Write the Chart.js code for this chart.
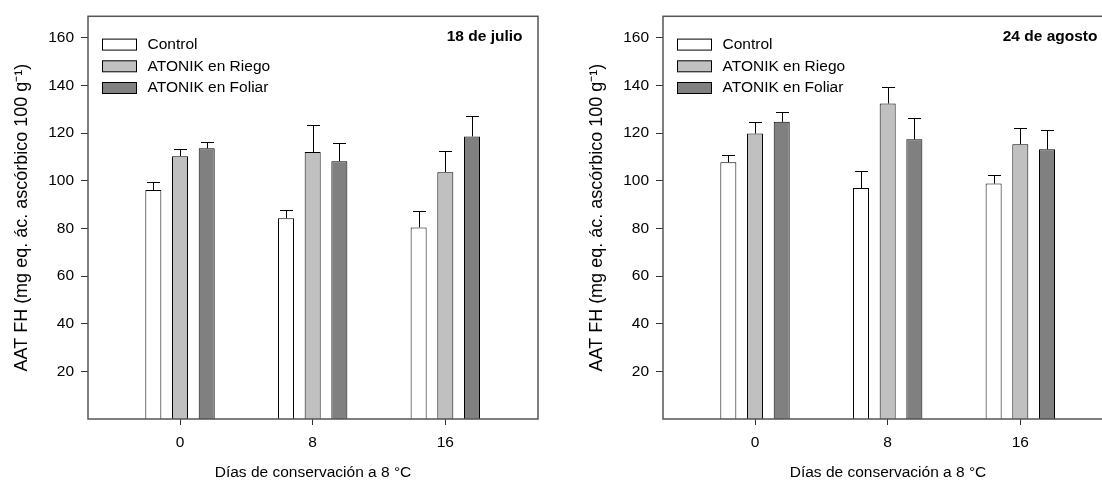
<!DOCTYPE html>
<html lang="es">
<head>
<meta charset="utf-8">
<title>AAT FH - ATONIK</title>
<script src="https://cdn.jsdelivr.net/npm/chart.js@4.4.1/dist/chart.umd.min.js"></script>
<style>
  html, body { margin: 0; padding: 0; background: #fff; }
  #wrap { position: relative; width: 1102px; height: 484px; overflow: hidden; }
  canvas { position: absolute; top: 0; }
  #julio { left: 0; }
  #agosto { left: 575px; }
</style>
</head>
<body>
<div id="wrap">
  <canvas id="julio" width="560" height="484"></canvas>
  <canvas id="agosto" width="560" height="484"></canvas>
</div>
<script>
// -------------------- Datos
const dias = [0, 8, 16];
const yTicks = [20, 40, 60, 80, 100, 120, 140, 160];
const series = ['Control', 'ATONIK en Riego', 'ATONIK en Foliar'];
const colores = ['#ffffff', '#c0c0c0', '#808080'];

// 18 de julio
const julioControl = [96.1, 84.3, 80.4];
const julioControlErr = [3.2, 3.3, 7.0];
const julioRiego = [110.3, 112.0, 103.6];
const julioRiegoErr = [3.0, 11.5, 8.9];
const julioFoliar = [113.6, 108.2, 118.6];
const julioFoliarErr = [2.7, 7.8, 8.4];

// 24 de agosto
const agostoControl = [107.8, 96.9, 98.8];
const agostoControlErr = [3.2, 7.0, 3.7];
const agostoRiego = [119.8, 132.4, 115.3];
const agostoRiegoErr = [4.8, 6.9, 6.9];
const agostoFoliar = [124.7, 117.4, 113.2];
const agostoFoliarErr = [4.3, 9.1, 7.9];

Chart.defaults.font.family = '"Liberation Sans", Arial, sans-serif';
Chart.defaults.font.size = 15.5;
Chart.defaults.color = '#000';

// Barras de error, marco, leyenda y fecha
const decoPlugin = {
    id: 'deco',
    afterDatasetsDraw(chart) {
        const ctx = chart.ctx;
        const y = chart.scales.y;
        ctx.save();
        ctx.strokeStyle = '#000';
        ctx.lineWidth = 1;
        chart.data.datasets.forEach((ds, i) => {
            const meta = chart.getDatasetMeta(i);
            meta.data.forEach((bar, j) => {
                const top = y.getPixelForValue(ds.data[j].y + ds.errores[j]);
                const x = Math.round(bar.x) + 0.5;
                const capY = Math.round(top) + 0.5;
                ctx.beginPath();
                ctx.moveTo(x, bar.y);
                ctx.lineTo(x, capY);
                ctx.moveTo(x - 6.5, capY);
                ctx.lineTo(x + 6.5, capY);
                ctx.stroke();
            });
        });
        ctx.restore();
    },
    afterDraw(chart, args, opts) {
        const ctx = chart.ctx;
        const a = chart.chartArea;
        ctx.save();

        // Marco
        ctx.strokeStyle = '#555';
        ctx.lineWidth = 1.5;
        ctx.strokeRect(a.left, a.top, a.right - a.left, a.bottom - a.top);

        // Leyenda
        ctx.font = '15.5px "Liberation Sans", Arial, sans-serif';
        ctx.textBaseline = 'middle';
        ctx.textAlign = 'left';
        chart.data.datasets.forEach((ds, i) => {
            const cy = a.top + 28.3 + i * 21.7;
            ctx.fillStyle = ds.backgroundColor;
            ctx.fillRect(a.left + 14.5, cy - 5.5, 34, 11);
            ctx.strokeStyle = '#000';
            ctx.lineWidth = 1;
            ctx.strokeRect(a.left + 14.5, cy - 5.5, 34, 11);
            ctx.fillStyle = '#000';
            ctx.fillText(ds.label, a.left + 59.5, cy);
        });

        // Fecha
        ctx.font = 'bold 15.5px "Liberation Sans", Arial, sans-serif';
        ctx.textAlign = 'right';
        ctx.fillText(opts.fecha, a.right - 15.5, 37);
        ctx.restore();
    }
};

function crearGrafico(id, fecha, valores, errores) {
    const datasets = series.map((nombre, i) => ({
        label: nombre,
        data: dias.map((d, j) => ({ x: d, y: valores[i][j] })),
        errores: errores[i],
        backgroundColor: colores[i],
        borderColor: '#000',
        borderWidth: 1,
        categoryPercentage: 0.6036,
        barPercentage: 0.6
    }));

    new Chart(document.getElementById(id), {
        type: 'bar',
        data: { datasets: datasets },
        options: {
            responsive: false,
            animation: false,
            layout: { padding: { left: 0, right: 22, top: 15, bottom: 0 } },
            plugins: {
                legend: { display: false },
                tooltip: { enabled: false },
                deco: { fecha: fecha }
            },
            scales: {
                x: {
                    type: 'linear',
                    min: -5.55,
                    max: 21.59,
                    offset: false,
                    afterBuildTicks: axis => { axis.ticks = dias.map(v => ({ value: v })); },
                    afterFit: axis => { axis.height = 65; },
                    grid: { drawOnChartArea: false, offset: false, tickLength: 6, tickColor: '#333' },
                    border: { display: false },
                    ticks: { padding: 8, autoSkip: false, maxRotation: 0, callback: v => String(v) },
                    title: {
                        display: true,
                        text: 'Días de conservación a 8 °C',
                        padding: { top: 4, bottom: 2 }
                    }
                },
                y: {
                    min: 0,
                    max: 169,
                    afterBuildTicks: axis => { axis.ticks = yTicks.map(v => ({ value: v })); },
                    afterFit: axis => { axis.width = 88; },
                    grid: { drawOnChartArea: false, tickLength: 7, tickColor: '#333' },
                    border: { display: false },
                    ticks: { padding: 7 },
                    title: {
                        display: true,
                        text: 'AAT FH (mg eq. ác. ascórbico 100 g⁻¹)',
                        font: { size: 18 },
                        padding: { top: 11, bottom: 4 }
                    }
                }
            }
        },
        plugins: [decoPlugin]
    });
}

crearGrafico('julio', '18 de julio',
    [julioControl, julioRiego, julioFoliar],
    [julioControlErr, julioRiegoErr, julioFoliarErr]);

crearGrafico('agosto', '24 de agosto',
    [agostoControl, agostoRiego, agostoFoliar],
    [agostoControlErr, agostoRiegoErr, agostoFoliarErr]);
</script>
</body>
</html>
